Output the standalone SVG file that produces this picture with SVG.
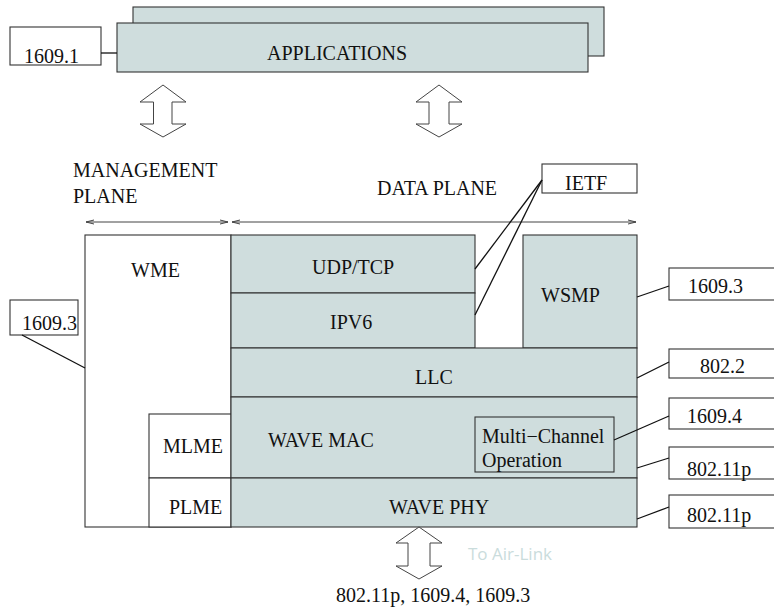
<svg xmlns="http://www.w3.org/2000/svg" width="774" height="607" viewBox="0 0 774 607">
<defs>
<style>
.box{fill:#cfdddd;stroke:#333;stroke-width:1.1}
.wbox{fill:#fff;stroke:#333;stroke-width:1.1}
.ln{fill:none;stroke:#111;stroke-width:1.3}
.arr{fill:#fff;stroke:#444;stroke-width:1}
.pl{fill:none;stroke:#444;stroke-width:1}
.t{font-family:'Liberation Serif','DejaVu Serif',serif;font-size:20px;fill:#111}
.air{font-family:'Open Sans','DejaVu Sans',sans-serif;font-size:17px;fill:#cadcdc}
</style>
<marker id="hd" viewBox="0 0 8 6" refX="8" refY="3" markerWidth="8" markerHeight="6" markerUnits="userSpaceOnUse" orient="auto-start-reverse">
<path d="M0,1 L8,3 L0,5" fill="none" stroke="#444" stroke-width="1"/>
</marker>
</defs>
<rect width="774" height="607" fill="#fff"/>

<g id="applications">
<rect class="box" x="133" y="7" width="471" height="49"/>
<rect class="box" x="117" y="23" width="471" height="49"/>
<text class="t" font-family="Liberation Serif, serif" x="267" y="60">APPLICATIONS</text>
</g>
<g id="std-1609-1">
<rect class="wbox" x="10" y="27" width="91" height="38"/>
<text class="t" font-family="Liberation Serif, serif" x="24" y="63">1609.1</text>
</g>

<g id="arrow-app-left"><polygon class="arr" points="163,85 186,102 172,102 172,124 186,124 163,137 140,124 153.5,124 153.5,102 140,102"/></g>
<g id="arrow-app-right"><polygon class="arr" points="439,85 462,102 449,102 449,124 462,124 439,137 416,124 429,124 429,102 416,102"/></g>

<g id="management-plane">
<text class="t" font-family="Liberation Serif, serif" x="73" y="177">MANAGEMENT</text>
<text class="t" font-family="Liberation Serif, serif" x="73" y="203">PLANE</text>
</g>
<g id="data-plane"><text class="t" font-family="Liberation Serif, serif" x="377" y="195">DATA PLANE</text></g>

<g id="ietf">
<rect class="wbox" x="542" y="164" width="95" height="29"/>
<text class="t" font-family="Liberation Serif, serif" x="565" y="190">IETF</text>
</g>

<g id="wme">
<rect class="wbox" x="85" y="235" width="146" height="292"/>
<text class="t" font-family="Liberation Serif, serif" x="131" y="277">WME</text>
</g>
<g id="mlme">
<rect class="wbox" x="149" y="414" width="82" height="64"/>
<text class="t" font-family="Liberation Serif, serif" x="163" y="453">MLME</text>
</g>
<g id="plme">
<rect class="wbox" x="149" y="478" width="82" height="49"/>
<text class="t" font-family="Liberation Serif, serif" x="169" y="514">PLME</text>
</g>

<g id="udp-tcp">
<rect class="box" x="231" y="235" width="244" height="58"/>
<text class="t" font-family="Liberation Serif, serif" x="312" y="274">UDP/TCP</text>
</g>
<g id="ipv6">
<rect class="box" x="231" y="293" width="244" height="55"/>
<text class="t" font-family="Liberation Serif, serif" x="330" y="329">IPV6</text>
</g>
<g id="wsmp">
<rect class="box" x="523" y="235" width="114" height="113"/>
<text class="t" font-family="Liberation Serif, serif" x="541" y="302">WSMP</text>
</g>
<g id="llc">
<rect class="box" x="231" y="348" width="406" height="49"/>
<text class="t" font-family="Liberation Serif, serif" x="415" y="384">LLC</text>
</g>
<g id="wave-mac">
<rect class="box" x="231" y="397" width="406" height="81"/>
<text class="t" font-family="Liberation Serif, serif" x="268" y="447">WAVE MAC</text>
</g>
<g id="multi-channel">
<rect class="box" x="475" y="417" width="139" height="55"/>
<text class="t" font-family="Liberation Serif, serif" x="482" y="443">Multi−Channel</text>
<text class="t" font-family="Liberation Serif, serif" x="482" y="467">Operation</text>
</g>
<g id="wave-phy">
<rect class="box" x="231" y="478" width="406" height="49"/>
<text class="t" font-family="Liberation Serif, serif" x="389" y="514">WAVE PHY</text>
</g>

<g id="std-1609-3-left">
<rect class="wbox" x="10" y="300" width="68" height="35"/>
<text class="t" font-family="Liberation Serif, serif" x="22" y="330">1609.3</text>
</g>
<g id="std-1609-3-right">
<rect class="wbox" x="669" y="268" width="110" height="32"/>
<text class="t" font-family="Liberation Serif, serif" x="688" y="293">1609.3</text>
</g>
<g id="std-802-2">
<rect class="wbox" x="669" y="349" width="110" height="29"/>
<text class="t" font-family="Liberation Serif, serif" x="700" y="373">802.2</text>
</g>
<g id="std-1609-4">
<rect class="wbox" x="669" y="398" width="110" height="31"/>
<text class="t" font-family="Liberation Serif, serif" x="687" y="423">1609.4</text>
</g>
<g id="std-802-11p-mac">
<rect class="wbox" x="669" y="447" width="110" height="32"/>
<text class="t" font-family="Liberation Serif, serif" x="687" y="476">802.11p</text>
</g>
<g id="std-802-11p-phy">
<rect class="wbox" x="669" y="495" width="110" height="33"/>
<text class="t" font-family="Liberation Serif, serif" x="687" y="522">802.11p</text>
</g>

<g id="arrow-air"><polygon class="arr" points="419,527 442,543 430,543 430,566 442,566 419,579 396,566 408,566 408,543 396,543"/></g>
<g id="air-link"><text class="air" x="468" y="560">To Air-Link</text></g>
<g id="bottom-label"><text class="t" font-family="Liberation Serif, serif" x="336" y="602">802.11p, 1609.4, 1609.3</text></g>

<g id="connectors">
<line class="ln" x1="101" y1="53" x2="117" y2="53"/>
<line class="pl" x1="86" y1="222" x2="228" y2="222" marker-start="url(#hd)" marker-end="url(#hd)"/>
<line class="pl" x1="232" y1="222" x2="636" y2="222" marker-start="url(#hd)" marker-end="url(#hd)"/>
<line class="ln" x1="542" y1="180" x2="475" y2="269"/>
<line class="ln" x1="542" y1="180" x2="475" y2="315"/>
<line class="ln" x1="637" y1="297" x2="669" y2="286"/>
<line class="ln" x1="637" y1="378" x2="669" y2="362"/>
<line class="ln" x1="614" y1="440" x2="669" y2="416"/>
<line class="ln" x1="637" y1="468" x2="669" y2="458"/>
<line class="ln" x1="637" y1="519" x2="669" y2="507"/>
<line class="ln" x1="22" y1="335" x2="85" y2="368"/>
</g>
</svg>
